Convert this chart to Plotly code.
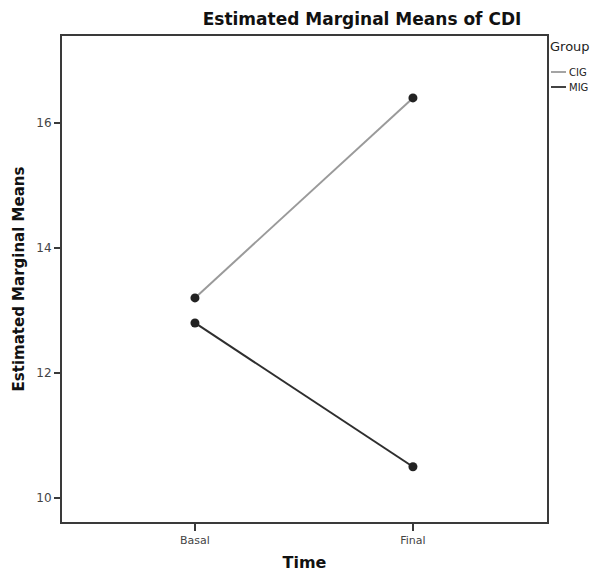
import plotly.graph_objects as go

times = ["Basal", "Final"]
groups = ["CIG", "MIG"]
cig_means = [13.2, 16.4]
mig_means = [12.8, 10.5]
line_colors = ["#9a9a9a", "#2e2e2e"]
y_ticks = [10, 12, 14, 16]

FONT = "DejaVu Sans"

fig = go.Figure()
for name, vals, col in zip(groups, [cig_means, mig_means], line_colors):
    fig.add_trace(go.Scatter(
        x=[0, 1], y=vals, mode="lines+markers", name=name,
        line=dict(color=col, width=2),
        marker=dict(color="#222222", size=9),
        showlegend=False,
    ))

fig.update_layout(
    width=603, height=572,
    margin=dict(l=62, r=56, t=36, b=50),
    paper_bgcolor="white", plot_bgcolor="white",
    font=dict(family=FONT, color="#333333"),
    title=dict(text="<b>Estimated Marginal Means of CDI</b>",
               x=362/603, xanchor="center", y=1 - 19/572, yanchor="middle",
               font=dict(size=17, color="#111111", family=FONT)),
    xaxis=dict(
        range=[-0.61, 1.615], tickmode="array", tickvals=[0, 1], ticktext=times,
        showgrid=False, zeroline=False, showline=True, linecolor="#3a3a3a",
        linewidth=2, mirror=True, ticks="outside", ticklen=7, tickwidth=1.5,
        tickcolor="#3a3a3a", tickfont=dict(size=11, color="#444444"),
        automargin=False,
        title=dict(text="<b>Time</b>", font=dict(size=16, color="#111111"), standoff=19),
    ),
    yaxis=dict(
        range=[9.616, 17.39], tickmode="array", tickvals=y_ticks,
        showgrid=False, zeroline=False, showline=True, linecolor="#3a3a3a",
        linewidth=2, mirror=True, ticks="outside", ticklen=6, tickwidth=1.5,
        tickcolor="#3a3a3a", tickfont=dict(size=12, color="#444444"),
        automargin=False,
        title=dict(text="<b>Estimated Marginal Means</b>", font=dict(size=15, color="#111111"), standoff=8),
    ),
)

# custom legend
fig.add_annotation(text="Group", xref="paper", yref="paper", x=(548 - 62) / 485, y=1 - (47 - 36) / 486,
                   xanchor="left", yanchor="middle", showarrow=False,
                   font=dict(size=13, color="#222222", family=FONT))
for i, (name, col) in enumerate(zip(groups, line_colors)):
    ypix = 72 + i * 15
    yp = 1 - (ypix - 36) / 486
    x0 = (551 - 62) / 485
    x1 = (566 - 62) / 485
    fig.add_shape(type="line", xref="paper", yref="paper", x0=x0, x1=x1, y0=yp, y1=yp,
                  line=dict(color=col, width=1.8))
    fig.add_annotation(text=name, xref="paper", yref="paper", x=x1 + 1 / 485, y=yp,
                       xanchor="left", yanchor="middle", showarrow=False,
                       font=dict(size=10, color="#222222", family=FONT))

fig.write_html("out.html")
